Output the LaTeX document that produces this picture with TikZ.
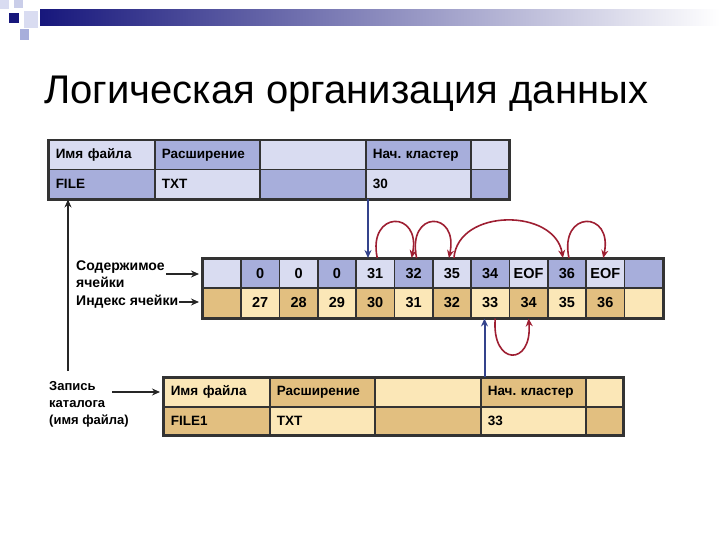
\documentclass[tikz,border=0pt]{standalone}
\usepackage{fontspec}
\setmainfont{Liberation Sans}
\usetikzlibrary{positioning,arrows.meta}
\frenchspacing

\definecolor{lavl}{HTML}{D9DCF1}
\definecolor{lavd}{HTML}{A7AEDB}
\definecolor{tanl}{HTML}{FBE7B7}
\definecolor{tand}{HTML}{E2BF80}
\definecolor{gridc}{HTML}{333333}
\definecolor{navyarr}{HTML}{34438C}
\definecolor{arcred}{HTML}{9E1F32}
\definecolor{bardark}{HTML}{17177C}

\tikzset{
  cell/.style={draw=gridc, line width=1.5pt, inner sep=0pt, anchor=north west,
    minimum width=38.33pt, font=\fontsize{14.5}{16}\selectfont\bfseries},
  tcell/.style={draw=gridc, line width=1.5pt, inner xsep=7pt, inner ysep=0pt,
    anchor=north west, align=left, font=\fontsize{13.5}{15}\selectfont\bfseries},
  lbl/.style={font=\fontsize{14}{17}\selectfont\bfseries, align=left, inner sep=1pt, anchor=west},
  frame/.style={draw=gridc, line width=2.2pt},
  bluearr/.style={navyarr, line width=2pt, -{Stealth[length=8pt,width=7pt]}},
  redarr/.style={arcred, line width=1.6pt, -{Stealth[length=8pt,width=7pt]}},
  blackarr/.style={black!85, line width=1.8pt, -{Stealth[length=8pt,width=7pt]}},
}

\begin{document}
\begin{tikzpicture}[x=1pt,y=-1pt]
    \useasboundingbox (0,0) rectangle (720,540);

    % header decoration
    \shade[left color=bardark, right color=white] (40,10) rectangle (720,26);
    \fill[lavl] (0,0) rectangle (9,9);
    \fill[lavd!60] (14,0) rectangle (23,8);
    \fill[bardark] (9,13) rectangle (19,23);
    \fill[lavl] (24,11) rectangle (38,28);
    \fill[lavd] (20,29) rectangle (29,40);

    \node[anchor=base west, font=\fontsize{40}{44}\selectfont, inner sep=0pt] (title) at (44,104)
    {Логическая организация данных};

    % directory entry FILE
    \foreach \n/\x/\w/\h/\v in {1/48/106/Имя файла/FILE, 2/154/105/Расширение/TXT,
        3/259/106/{}/{}, 4/365/105/Нач. кластер/30, 5/470/38/{}/{}} {
      \pgfmathsetmacro\tw{\w-14}
      \ifodd\n \def\fa{lavl}\def\fb{lavd}\else \def\fa{lavd}\def\fb{lavl}\fi
      \node[tcell, fill=\fa, text width=\tw pt, minimum height=29pt] (t1\n) at (\x,140) {\h};
      \node[tcell, fill=\fb, text width=\tw pt, minimum height=29pt] (t2\n) at (\x,169) {\v};
    }
    \draw[frame] (t11.north west) rectangle (t25.south east);

    % cell contents and cell index
    \foreach \v [count=\n] in {{},0,0,0,31,32,35,34,EOF,36,EOF,{}} {
      \pgfmathsetmacro\cx{202+(\n-1)*38.333}
      \ifodd\n \def\fa{lavl}\else \def\fa{lavd}\fi
      \node[cell, fill=\fa, minimum height=29pt] (c\n) at (\cx,258) {\v};
    }
    \foreach \v [count=\n] in {{},27,28,29,30,31,32,33,34,35,36,{}} {
      \pgfmathsetmacro\cx{202+(\n-1)*38.333}
      \ifodd\n \def\fa{tand}\else \def\fa{tanl}\fi
      \node[cell, fill=\fa, minimum height=30pt] (i\n) at (\cx,287) {\v};
    }
    \draw[frame] (c1.north west) rectangle (i12.south east);

    % directory entry FILE1
    \foreach \n/\x/\w/\h/\v in {1/163/106/Имя файла/FILE1, 2/269/105/Расширение/TXT,
        3/374/106/{}/{}, 4/480/105/Нач. кластер/33, 5/585/37/{}/{}} {
      \pgfmathsetmacro\tw{\w-14}
      \ifodd\n \def\fa{tanl}\def\fb{tand}\else \def\fa{tand}\def\fb{tanl}\fi
      \node[tcell, fill=\fa, text width=\tw pt, minimum height=29pt] (b1\n) at (\x,377) {\h};
      \node[tcell, fill=\fb, text width=\tw pt, minimum height=28pt] (b2\n) at (\x,406) {\v};
    }
    \draw[frame] (b11.north west) rectangle (b25.south east);

    % labels
    \node[lbl] (cont) at (75,274) {Содержимое\\ячейки};
    \node[lbl] (idx) at (75,302) {Индекс ячейки};
    \node[lbl, font=\fontsize{13}{17}\selectfont\bfseries] (rec) at (48,404) {Запись\\каталога\\(имя файла)};
    \coordinate (recarr) at (112,392);
    \coordinate (up) at (68,371);

    \draw[blackarr, shorten >=3pt] (cont.east) -- (cont.east -| c1.west);
    \draw[blackarr, shorten >=3pt] (idx.east) -- (idx.east -| i1.west);
    \draw[blackarr, shorten >=3pt] (recarr) -- (recarr -| b11.west);
    \draw[blackarr] (up) -- (up |- t21.south);

    % cluster chain
    \draw[bluearr] ([xshift=3pt]t24.south west) -- ([xshift=3pt]t24.south west |- c5.north);
    \draw[redarr] ([xshift=2pt]c5.north) .. controls +(-10,-48) and +(10,-48) .. ([xshift=-2pt]c6.north);
    \draw[redarr] ([xshift=3pt]c6.north) .. controls +(-10,-48) and +(10,-48) .. ([xshift=-3pt]c7.north);
    \draw[redarr] ([xshift=2pt]c7.north) .. controls +(4,-50) and +(-8,-50) .. ([xshift=-4pt]c10.north);
    \draw[redarr] ([xshift=2pt]c10.north) .. controls +(-10,-48) and +(10,-48) .. ([xshift=-2pt]c11.north);

    \draw[bluearr] ([xshift=4.5pt]b14.north west) -- ([xshift=4.5pt]b14.north west |- i8.south);
    \draw[redarr] ([xshift=5pt]i8.south) .. controls +(-4,48) and +(4,48) .. (i9.south);
\end{tikzpicture}
\end{document}
